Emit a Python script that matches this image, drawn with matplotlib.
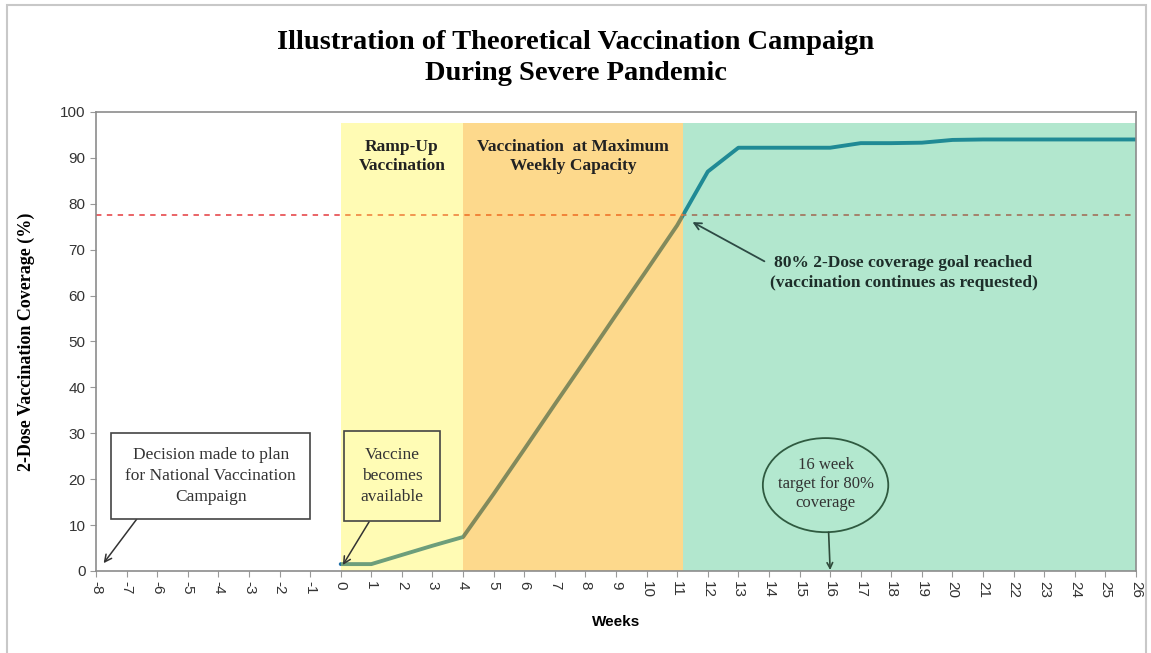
import numpy as np
import matplotlib.pyplot as plt
from matplotlib.patches import Ellipse, Rectangle

# coverage curve (weeks since vaccine available, % 2-dose coverage)
weeks = [0, 1, 2, 3, 4, 5, 6, 7, 8, 9, 10, 11, 12, 13, 14, 15, 16, 17, 18, 19, 20, 21, 22, 23, 24, 25, 26]
coverage = [1.5, 1.5, 3.5, 5.5, 7.4, 16.8, 26.5, 36.3, 46.0, 55.8, 65.5, 75.3, 87.0, 92.2, 92.2, 92.2, 92.2,
            93.2, 93.2, 93.3, 93.9, 94.0, 94.0, 94.0, 94.0, 94.0, 94.0]
goal_line = 77.6

# campaign phases (start week, end week, colour, alpha)
phase_start = [0, 4, 11.2]
phase_end = [4, 11.2, 26]
phase_color = ['#fff629', '#fbab00', '#23bd73']
phase_alpha = [0.35, 0.45, 0.35]
phase_top = 97.5

xticks = list(range(-8, 27))
yticks = list(range(0, 101, 10))

serif = 'Liberation Serif'
sans = 'Liberation Sans'

fig = plt.figure(figsize=(11.51, 6.53), dpi=100)
ax = fig.add_axes([0.0834, 0.1256, 0.9036, 0.703])

ax.plot(weeks, coverage, color='#1f6fa8', lw=2.8, zorder=1, solid_capstyle='round')
ax.axhline(goal_line, color='#e8575a', lw=1.3, ls=(0, (3, 3)), zorder=1)

for s, e, c, a in zip(phase_start, phase_end, phase_color, phase_alpha):
    ax.add_patch(Rectangle((s, 0), e - s, phase_top, facecolor=c, alpha=a, lw=0, zorder=2))

ax.set_xlim(-8, 26)
ax.set_ylim(0, 100)
ax.set_xticks(xticks)
ax.set_xticklabels([str(t) for t in xticks], rotation=-90, fontsize=11, family=sans, color='#333333')
ax.set_yticks(yticks)
ax.set_yticklabels([str(t) for t in yticks], fontsize=11, family=sans, color='#333333')
ax.tick_params(length=4, color='#999999', width=0.8)
for sp in ax.spines.values():
    sp.set_color('#8c8c8c')
    sp.set_linewidth(1.2)

ax.set_xlabel('Weeks', family=sans, fontweight='bold', fontsize=11, labelpad=12)
ax.set_ylabel('2-Dose Vaccination Coverage (%)', family=serif, fontweight='bold', fontsize=13, labelpad=18)

fig.text(0.5, 0.911, 'Illustration of Theoretical Vaccination Campaign\nDuring Severe Pandemic',
         ha='center', va='center', family=serif, fontweight='bold', fontsize=20.5, linespacing=1.3)

# phase headers
ax.text(2.0, 90.3, 'Ramp-Up\nVaccination', ha='center', va='center', family=serif,
        fontweight='bold', fontsize=12.5, linespacing=1.3, zorder=5, color='#222222')
ax.text(7.6, 90.3, 'Vaccination  at Maximum\nWeekly Capacity', ha='center', va='center', family=serif,
        fontweight='bold', fontsize=12.5, linespacing=1.3, zorder=5, color='#222222')

arrow = dict(arrowstyle='->', color='#333333', lw=1.1, shrinkA=0, shrinkB=0)

ax.annotate('Decision made to plan\nfor National Vaccination\nCampaign', xy=(-7.75, 1.7), xytext=(-4.25, 20.7),
            ha='center', va='center', family=serif, fontsize=12.5, linespacing=1.4, color='#333333', zorder=6,
            bbox=dict(boxstyle='square,pad=0.8', fc='white', ec='#444444', lw=1.2),
            arrowprops=dict(relpos=(0.13, 0.0), **arrow))

ax.annotate('Vaccine\nbecomes\navailable', xy=(0.07, 1.3), xytext=(1.68, 20.7),
            ha='center', va='center', family=serif, fontsize=12.5, linespacing=1.4, color='#333333', zorder=6,
            bbox=dict(boxstyle='square,pad=0.95', fc='#fffcb5', ec='#444444', lw=1.2),
            arrowprops=dict(relpos=(0.3, 0.0), **arrow))

ax.annotate('80% 2-Dose coverage goal reached\n(vaccination continues as requested)',
            xy=(11.5, 76.0), xytext=(18.4, 64.9), ha='center', va='center', family=serif,
            fontweight='bold', fontsize=12.5, linespacing=1.3, color='#1e2e2a', zorder=6,
            arrowprops=dict(relpos=(0.0, 0.75), arrowstyle='->', color='#2d4a44', lw=1.3,
                            shrinkA=2, shrinkB=0))

ax.add_patch(Ellipse((15.85, 18.7), 4.1, 20.5, fc='#b3e8cf', ec='#2f5a40', lw=1.3, zorder=5))
ax.text(15.85, 18.9, '16 week\ntarget for 80%\ncoverage', ha='center', va='center', family=serif,
        fontsize=12, linespacing=1.25, color='#333333', zorder=6)
ax.annotate('', xy=(16, 0.2), xytext=(15.95, 8.45),
            arrowprops=dict(arrowstyle='->', color='#2f4a3a', lw=1.2, shrinkA=0, shrinkB=0), zorder=6)

fig.add_artist(Rectangle((0.006, -0.01), 0.99, 1.003, transform=fig.transFigure, fill=False,
                         ec='#c8c8c8', lw=1.5))

fig.savefig('out.png', dpi=100)
